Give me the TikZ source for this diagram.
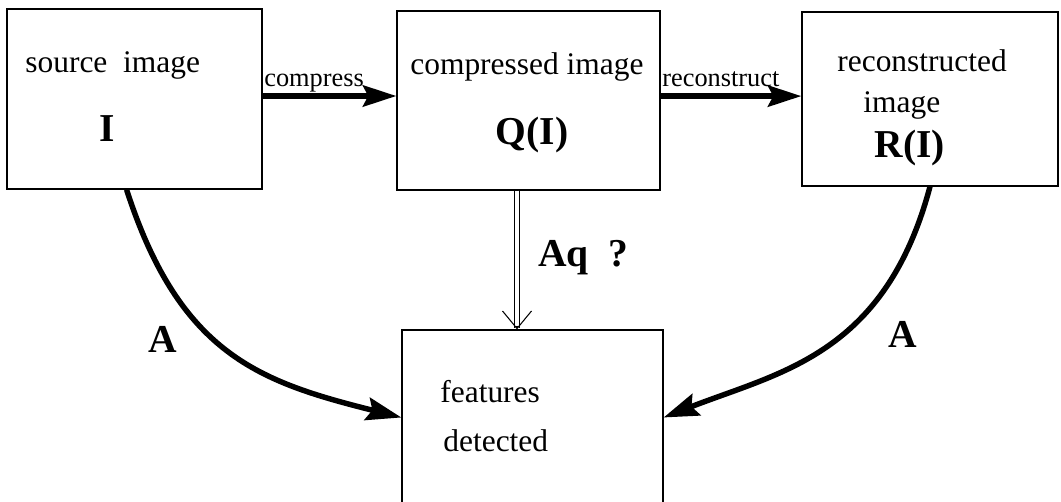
\documentclass[tikz,border=0pt]{standalone}
\usepackage{fontspec}
\setmainfont{Liberation Serif}
\usetikzlibrary{arrows.meta}
\tikzset{box/.style = {draw, line width = 0.7pt, inner sep = 0},
  flow/.style = {line width = 3.3pt, -{Stealth[length = 19pt, width = 12pt, inset = 3pt]}},
  curvy/.style = {line width = 3.1pt, -{Stealth[length = 20pt, width = 13pt, inset = 3pt]}},
  txt/.style = {anchor = base west, inner sep = 0, font = \fontsize{17.9}{20}\selectfont},
  sym/.style = {anchor = base, inner sep = 0, font = \fontsize{22.5}{25}\selectfont\bfseries},
  arrlbl/.style = {anchor = base west, inner sep = 0, font = \fontsize{15}{17}\selectfont}}

\begin{document}
\begin{tikzpicture}[x = 0.02cm, y = -0.02cm]
    \useasboundingbox (0, 0) rectangle (1061, 502);

    \node [box, minimum width = 5.1cm, minimum height = 3.6cm] (src) at (134.5, 99) {};
    \node [box, minimum width = 5.26cm, minimum height = 3.58cm] (cmp) at (528.5, 100.5) {};
    \node [box, minimum width = 5.12cm, minimum height = 3.48cm] (rec) at (930, 99) {};
    \node [box, minimum width = 5.22cm, minimum height = 3.5cm] (feat) at (532.5, 417.5) {};

    \node [txt] (srctxt) at (25, 73) {source\ \ image};
    \node [sym] (srcsym) at (107, 142) {I};
    \node [txt] (cmptxt) at (410, 75) {compressed image};
    \node [sym] (cmpsym) at (532, 145) {Q(I)};
    \node [txt] (rectxt) at (837, 72) {reconstructed};
    \node [txt] (recimg) at (863, 113) {image};
    \node [sym] (recsym) at (910, 158) {R(I)};
    \node [txt] (feattxt) at (440, 403) {features};
    \node [txt] (detetxt) at (443, 452) {detected};

    \draw [flow] ([yshift = 1.7pt]src.east) -- ([yshift = 1.7pt]src.east -| cmp.west);
    \node [arrlbl] (compress) at (264, 87) {compress};
    \draw [flow] ([yshift = 2.5pt]cmp.east) -- ([yshift = 2.5pt]cmp.east -| rec.west);
    \node [arrlbl] (reconstruct) at (662, 87) {reconstruct};

    \coordinate (aq) at (517, 0);
    \draw [double, double distance = 2.3pt, line width = 0.6pt, shorten >= 1pt] (cmp.south -| aq) -- (feat.north -| aq);
    \draw [line width = 0.6pt, shorten <= 77pt, -{Straight Barb[length = 10pt, width = 16.5pt]}] (cmp.south -| aq) -- (feat.north -| aq);
    \node [sym, anchor = base west] (aqlbl) at (538, 267) {Aq\ \ ?};

    \draw [curvy] (src.265) .. controls (180, 355) and (260, 382) .. (feat.west);
    \node [sym] (alft) at (163, 353) {A};
    \draw [curvy] (rec.south) .. controls (885, 355) and (780, 372) .. (feat.east);
    \node [sym] (argt) at (903, 348) {A};
  \end{tikzpicture}
\end{document}
